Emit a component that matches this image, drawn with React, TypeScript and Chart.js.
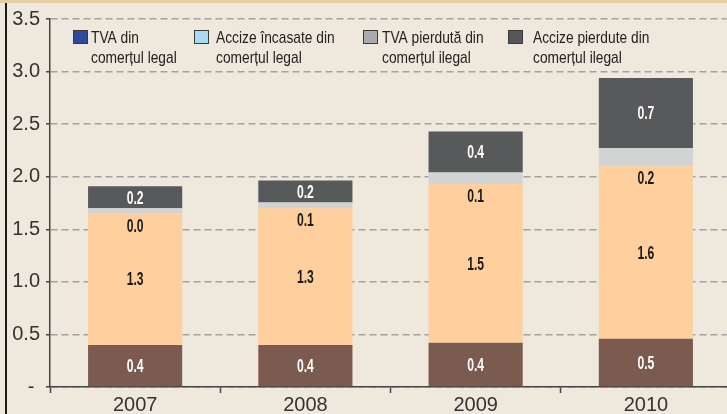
import React, { useEffect, useRef } from "react";
import { Chart, registerables } from "chart.js";

Chart.register(...registerables);

const years = ["2007", "2008", "2009", "2010"];
const tvaLegal = [0.4, 0.4, 0.42, 0.46];
const accizeLegal = [1.25, 1.3, 1.51, 1.64];
const tvaIlegal = [0.049, 0.055, 0.11, 0.17];
const accizeIlegal = [0.21, 0.21, 0.39, 0.67];

const seriesNames = [
  ["TVA din", "comerțul legal"],
  ["Accize încasate din", "comerțul legal"],
  ["TVA pierdută din", "comerțul ilegal"],
  ["Accize pierdute din", "comerțul ilegal"],
];
const barColors = ["#7b5a4f", "#ffd09d", "#d2d3d5", "#58595b"];
const legendColors = ["#2f4a9c", "#a8daf2", "#a9abae", "#56575a"];
const yTicks = [0, 0.5, 1, 1.5, 2, 2.5, 3, 3.5];

const SANS = '"Liberation Sans", Arial, sans-serif';

function narrowText(ctx: any, txt: string, x: number, y: number, sx: number, align: string) {
  ctx.save();
  ctx.translate(x, y);
  ctx.scale(sx, 1);
  ctx.textAlign = align;
  ctx.fillText(txt, 0, 0);
  ctx.restore();
}

const labelPlugin = {
  id: "segLabels",
  afterDatasetsDraw(chart: any) {
    const ctx = chart.ctx;
    ctx.save();
    ctx.font = `bold 19px ${SANS}`;
    ctx.textBaseline = "middle";
    chart.data.datasets.forEach((ds: any, i: number) => {
      const meta = chart.getDatasetMeta(i);
      meta.data.forEach((el: any, j: number) => {
        const v = ds.data[j] as number;
        const txt = v.toFixed(1);
        let y = (el.y + el.base) / 2;
        if (i === 2) y = el.base + 12;
        ctx.fillStyle = i === 0 || i === 3 ? "#ffffff" : "#1a1a1a";
        narrowText(ctx, txt, el.x, y + 1, 0.64, "center");
      });
    });
    ctx.restore();
  },
};

const legendPlugin = {
  id: "customLegend",
  afterDraw(chart: any) {
    const ctx = chart.ctx;
    const xs = [73, 194, 363, 508];
    const textX = [91, 216, 382, 533];
    ctx.save();
    ctx.font = `17px ${SANS}`;
    ctx.textBaseline = "middle";
    seriesNames.forEach((lines, i) => {
      ctx.fillStyle = legendColors[i];
      ctx.fillRect(xs[i], 30, 15, 14);
      ctx.strokeStyle = "#3a3a3a";
      ctx.lineWidth = 1;
      ctx.strokeRect(xs[i] + 0.5, 30.5, 14, 13);
      ctx.fillStyle = "#222222";
      lines.forEach((ln, k) => narrowText(ctx, ln, textX[i], 38 + k * 20, 0.81, "left"));
    });
    ctx.restore();
  },
};

export default function App() {
  const ref = useRef<HTMLCanvasElement>(null);
  useEffect(() => {
    if (!ref.current) return;
    const values = [tvaLegal, accizeLegal, tvaIlegal, accizeIlegal];
    const chart = new Chart(ref.current, {
      type: "bar",
      data: {
        labels: years,
        datasets: values.map((d, i) => ({
          label: seriesNames[i].join(" "),
          data: d,
          backgroundColor: barColors[i],
          borderWidth: 0,
          categoryPercentage: 1,
          barPercentage: 0.553,
        })),
      },
      options: {
        responsive: false,
        animation: false,
        devicePixelRatio: 1,
        layout: { padding: { top: 19, left: 0, right: 0, bottom: 0 } },
        plugins: { legend: { display: false }, tooltip: { enabled: false } },
        scales: {
          x: {
            stacked: true,
            afterFit: (s: any) => {
              s.height = 27;
            },
            grid: {
              display: true,
              drawOnChartArea: false,
              drawTicks: true,
              tickLength: 6,
              tickColor: "#444",
              tickWidth: 1.5,
              offset: true,
            },
            border: { display: true, color: "#444", width: 1.5 },
            ticks: { color: "#333", font: { family: SANS, size: 20 }, padding: 0 },
          },
          y: {
            stacked: true,
            min: 0,
            max: 3.5,
            afterFit: (s: any) => {
              s.width = 50;
            },
            afterBuildTicks: (s: any) => {
              s.ticks = yTicks.map((v) => ({ value: v }));
            },
            grid: {
              color: "#a2a2a2",
              lineWidth: 1.5,
              tickLength: 4,
              tickColor: "#444",
              tickWidth: 1.5,
              tickBorderDash: [],
            },
            border: { display: true, color: "#444", width: 1.5, dash: [7, 4] },
            ticks: {
              color: "#333",
              padding: 6,
              font: { family: SANS, size: 20 },
              callback: (v: any) => (Number(v) === 0 ? "- " : Number(v).toFixed(1)),
            },
          },
        },
      },
      plugins: [labelPlugin, legendPlugin],
    });
    return () => chart.destroy();
  }, []);

  return (
    <div
      style={{
        position: "absolute",
        left: 0,
        top: 0,
        width: 727,
        height: 414,
        overflow: "hidden",
        background: "#efe8dc",
      }}
    >
      <div style={{ position: "absolute", left: 0, top: 0, width: 727, height: 3, background: "#e2cfa4" }} />
      <div style={{ position: "absolute", left: 5, top: 3, width: 2, height: 411, background: "#1a1a1a" }} />
      <canvas ref={ref} width={731} height={414} style={{ position: "absolute", left: 0, top: 0 }} />
    </div>
  );
}
